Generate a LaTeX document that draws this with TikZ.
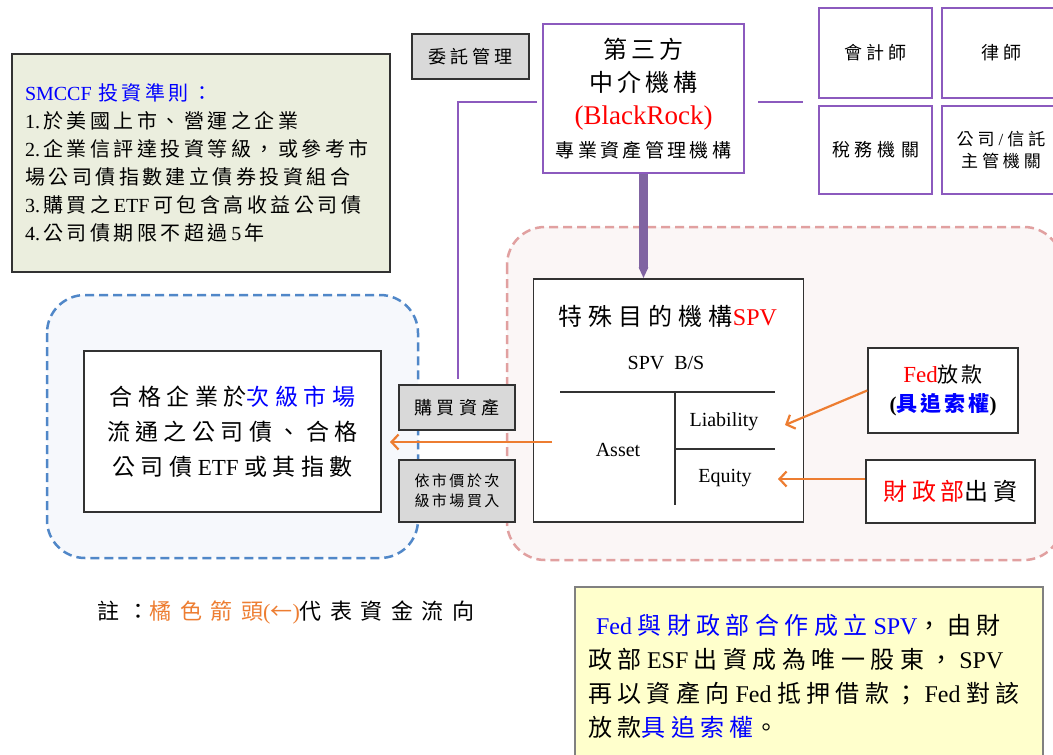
\documentclass[tikz,border=0pt]{standalone}
\usepackage{fontspec}
\setmainfont{Liberation Serif}
\newfontfamily\cj{Noto Sans CJK TC}
\usetikzlibrary{arrows.meta}
\newdimen\cjt \cjt=3pt
\XeTeXinterchartokenstate=1
\newXeTeXintercharclass\cjkc
\newcount\cjn
\cjn="21
\loop \XeTeXcharclass\cjn=0 \advance\cjn by 1 \ifnum\cjn<"3000 \repeat
\cjn="3000
\loop \XeTeXcharclass\cjn=\cjkc \advance\cjn by 1 \ifnum\cjn<"A000 \repeat
\cjn="FF00
\loop \XeTeXcharclass\cjn=\cjkc \advance\cjn by 1 \ifnum\cjn<"FFF0 \repeat
\XeTeXcharclass"2190=\cjkc
\XeTeXinterchartoks 0 \cjkc={\cj\kern\cjt}
\XeTeXinterchartoks 4095 \cjkc={\cj}
\XeTeXinterchartoks 4095 0={\rmfamily}
\XeTeXinterchartoks \cjkc 0={\rmfamily\kern\cjt}
\XeTeXinterchartoks \cjkc \cjkc={\cj\kern\cjt}
\newcommand\fsz[3]{\fontsize{#1}{#2}\selectfont\cjt=#3pt\relax}
\definecolor{pur}{RGB}{140,90,190}
\definecolor{arrp}{RGB}{128,100,162}
\definecolor{gfill}{RGB}{217,217,217}
\definecolor{smfill}{RGB}{235,238,222}
\definecolor{bdash}{RGB}{80,135,200}
\definecolor{bfill}{RGB}{246,248,252}
\definecolor{pdash}{RGB}{225,160,160}
\definecolor{pfill}{RGB}{251,246,246}
\definecolor{ora}{RGB}{237,125,49}
\definecolor{yfill}{RGB}{255,255,204}
\definecolor{myblue}{RGB}{0,0,255}
\definecolor{myred}{RGB}{255,0,0}
\definecolor{edge}{RGB}{50,50,50}
\begin{document}
\begin{tikzpicture}[x=1pt,y=-1pt,
  pbox/.style={draw=pur,line width=2pt,fill=white,inner sep=2pt},
  gbox/.style={draw=edge,line width=1.5pt,fill=gfill,inner sep=2pt},
  bbox/.style={draw=edge,line width=1.5pt,fill=white,inner sep=2pt},
  smbox/.style={draw=edge,line width=1.5pt,fill=smfill,inner sep=2pt},
  ybox/.style={draw=black!50,line width=1.5pt,fill=yfill,inner sep=2pt},
  region/.style={line width=2.5pt,dash pattern=on 9pt off 5pt,rounded corners=38pt},
  pline/.style={draw=pur,line width=2pt},
  oarrow/.style={draw=ora,line width=2.2pt,-{Straight Barb[length=7pt,width=15pt]}},
  tline/.style={draw=edge,line width=1.5pt},
  plain/.style={inner sep=0pt}]
\fill[white] (0,0) rectangle (1053,755);
\useasboundingbox (0,0) rectangle (1053,755);
\clip (0,0) rectangle (1053,755);

% regions
\draw[region,draw=bdash,fill=bfill] (47,295) rectangle (418,558);
\draw[region,draw=pdash,fill=pfill] (507,227) rectangle (1062,560);

% SMCCF box
\node[smbox,minimum width=378,minimum height=218,text width=352,align=left,font=\fsz{20}{28}{3.5}] (sm) at (201,163)
 {\textcolor{myblue}{SMCCF 投資準則：}\\1.於美國上市、營運之企業\\2.企業信評達投資等級，或參考市\\場公司債指數建立債券投資組合\\3.購買之ETF可包含高收益公司債\\4.公司債期限不超過5年};

% top
\node[gbox,minimum width=117,minimum height=45,font=\fsz{18}{22}{4.3}] (wt) at (470.5,56.5) {委託管理};
\node[pbox,minimum width=201,minimum height=149,align=center,font=\fsz{24}{33}{4}] (tp) at (643.5,98.5)
 {第三方\\中介機構\\{\fontsize{27}{33}\selectfont\textcolor{myred}{(BlackRock)}}\\{\fsz{19}{30}{3.3}專業資產管理機構}};

\node[pbox,minimum width=113,minimum height=90,font=\fsz{18}{24}{4}] (acc) at (875.5,53) {會計師};
\node[pbox,minimum width=118,minimum height=90,font=\fsz{18}{24}{4}] (law) at (1001,53) {律師};
\node[pbox,minimum width=113,minimum height=88,font=\fsz{18}{24}{5}] (tax) at (875.5,150) {稅務機關};
\node[pbox,minimum width=118,minimum height=88,align=center,font=\fsz{17}{22}{4}] (reg) at (1001,150) {公司/信託\\主管機關};

\coordinate (pl1) at (537,102);
\coordinate (pl2) at (458,102);
\coordinate (pr1) at (758,102);
\coordinate (pr2) at (803,102);

% left side
\node[bbox,minimum width=297,minimum height=161,align=center,font=\fsz{23}{35}{5.5}] (lb) at (232.5,431.5)
 {合格企業於\textcolor{myblue}{次級市場}\\流通之公司債、合格\\公司債ETF或其指數};
\node[gbox,minimum width=116,minimum height=45,font=\fsz{18}{22}{4.5}] (buy) at (457,407.5) {購買資產};
\node[gbox,minimum width=116,minimum height=62,align=center,font=\fsz{15}{20}{2.5}] (mkt) at (457,491) {依市價於次\\級市場買入};

\draw[pline] (pl1) -- (pl2) -- ([yshift=5pt]buy.north -| pl2);
\draw[pline] (pr1) -- (pr2);

% SPV
\node[bbox,minimum width=270,minimum height=243] (spv) at (668.5,400.5) {};
\node[plain,font=\fsz{24}{28}{6}] (spvt) at (668,316) {特殊目的機構\textcolor{myred}{SPV}};
\node[plain,font=\fontsize{20}{24}\selectfont] (bs) at (666,363) {SPV~~B/S};
\node[plain,font=\fontsize{20}{24}\selectfont] (asset) at (618,450) {Asset};
\node[plain,font=\fontsize{20}{24}\selectfont] (liab) at (724,422) {Liability};
\node[plain,font=\fontsize{20}{24}\selectfont] (equ) at (725,478) {Equity};
\coordinate (t1) at (560,392);
\coordinate (t2) at (775,392);
\coordinate (t3) at (675,392);
\coordinate (t4) at (675,505);
\coordinate (t5) at (675,449);
\coordinate (t6) at (775,449);
\draw[tline] (t1) -- (t2);
\draw[tline] (t3) -- (t4);
\draw[tline] (t5) -- (t6);

\node[bbox,minimum width=150,minimum height=85,align=center,font=\fsz{21}{29}{3}] (fed) at (943,390.5)
 {{\fontsize{23}{29}\selectfont\textcolor{myred}{Fed}}放款\\{\bfseries(\textcolor{myblue}{具追索權})}};
\node[bbox,minimum width=169,minimum height=63,font=\fsz{24}{28}{4.5}] (fin) at (950.5,491.5)
 {\textcolor{myred}{財政部}出資};

% thick arrow
\draw[line width=9pt,arrp,-{Triangle[length=11pt,width=9pt]}] (tp.south) -- (tp.south |- spv.north);

% orange arrows
\coordinate (a1s) at (552,442);
\coordinate (a1e) at (390,442);
\coordinate (a2e) at (785,425);
\coordinate (a3e) at (778,479);
\draw[oarrow] (a1s) -- (a1e);
\draw[oarrow] (fed.west) -- (a2e);
\draw[oarrow] (fin.west |- a3e) -- (a3e);

% note
\node[plain,anchor=west,font=\fsz{22}{26}{8.5}] (note) at (97,612)
 {註：\textcolor{ora}{橘色箭頭{\cjt=0pt(←)}}代表資金流向};

% yellow box
\node[ybox,minimum width=468,minimum height=178,text width=442,align=left,font=\fsz{24}{34}{5.5}] (yb) at (809,676)
 {~\textcolor{myblue}{Fed與財政部合作成立SPV}，由財\\政部ESF出資成為唯一股東，SPV\\再以資產向Fed抵押借款；Fed對該\\放款\textcolor{myblue}{具追索權}。};
\end{tikzpicture}
\end{document}
